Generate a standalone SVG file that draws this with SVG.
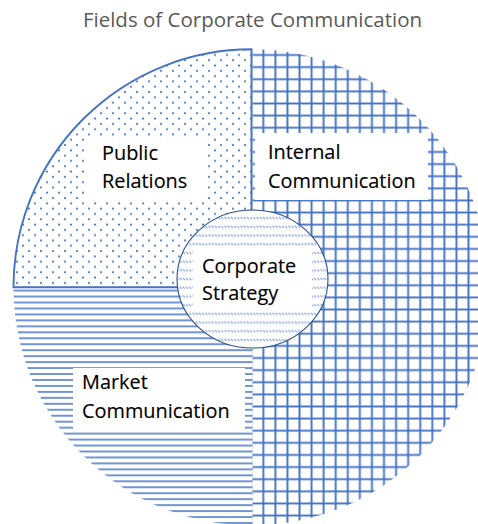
<svg xmlns="http://www.w3.org/2000/svg" width="478" height="524" viewBox="0 0 478 524">
  <style>
    .title { font-family: "Open Sans", "Liberation Sans", sans-serif; font-size: 20.5px; fill: #595959; }
    .lbl { font-family: "Open Sans", "Liberation Sans", sans-serif; font-size: 19.9px; fill: #000000; stroke: #000000; stroke-width: 0.15px; }
    .box { fill: #ffffff; }
  </style>
  <defs>
    <!-- fill patterns of the three outer fields and the core -->
    <pattern id="dots" patternUnits="userSpaceOnUse" x="86" y="131.5" width="12" height="10.6">
      <circle cx="3" cy="3" r="1.1" fill="#4472C4"/>
      <circle cx="9" cy="8.3" r="1.1" fill="#4472C4"/>
    </pattern>
    <pattern id="grid" patternUnits="userSpaceOnUse" x="257.27" y="48.94" width="12.07" height="12.12">
      <path d="M6.035,0V12.12M0,6.06H12.07" stroke="#4472C4" stroke-width="1.9" fill="none"/>
    </pattern>
    <pattern id="hlines" patternUnits="userSpaceOnUse" x="0" y="287.6" width="20" height="5.96">
      <path d="M0,2.98H20" stroke="#4472C4" stroke-width="1.5"/>
    </pattern>
    <pattern id="wave" patternUnits="userSpaceOnUse" x="0" y="303.2" width="3.2" height="8.7">
      <path d="M0.4,0.8L2.6,3" stroke="#4472C4" stroke-width="0.9" stroke-opacity="0.75"/>
    </pattern>
    <clipPath id="rightHalf"><rect x="252.5" y="0" width="226" height="524"/></clipPath>
    <clipPath id="lowerLeft"><rect x="0" y="287.5" width="252.5" height="237"/></clipPath>
  </defs>

  <g id="title">
    <text class="title" x="252.5" y="26.7" text-anchor="middle">Fields of Corporate Communication</text>
  </g>

  <!-- right half: internal communication -->
  <g id="internal-communication">
    <circle cx="251.5" cy="287.3" r="238" fill="url(#grid)" clip-path="url(#rightHalf)"/>
    <rect class="box" x="255" y="133" width="173" height="67"/>
    <text class="lbl" x="268" y="159">Internal</text>
    <text class="lbl" x="268" y="188">Communication</text>
  </g>

  <!-- lower-left quarter: market communication -->
  <g id="market-communication">
    <circle cx="251.5" cy="287.3" r="238" fill="url(#hlines)" clip-path="url(#lowerLeft)"/>
    <rect class="box" x="73" y="368" width="172" height="64"/>
    <text class="lbl" x="82" y="389">Market</text>
    <text class="lbl" x="82" y="418">Communication</text>
  </g>

  <!-- upper-left quarter: public relations -->
  <g id="public-relations">
    <path d="M251.5,287.3V49.3A238,238 0 0 0 13.5,287.3Z" fill="url(#dots)" stroke="#4472C4" stroke-width="1.9" stroke-linejoin="miter"/>
    <rect class="box" x="86" y="136" width="118" height="66"/>
    <text class="lbl" x="102" y="160">Public</text>
    <text class="lbl" x="102" y="188">Relations</text>
  </g>

  <!-- core: corporate strategy -->
  <g id="corporate-strategy">
    <ellipse cx="252.5" cy="279" rx="75.5" ry="69" fill="#ffffff"/>
    <ellipse cx="252.5" cy="279" rx="75.5" ry="69" fill="url(#wave)" stroke="#2F528F" stroke-width="1.1"/>
    <rect class="box" x="193" y="247" width="119" height="64"/>
    <text class="lbl" x="202" y="273">Corporate</text>
    <text class="lbl" x="202" y="300">Strategy</text>
  </g>
</svg>
